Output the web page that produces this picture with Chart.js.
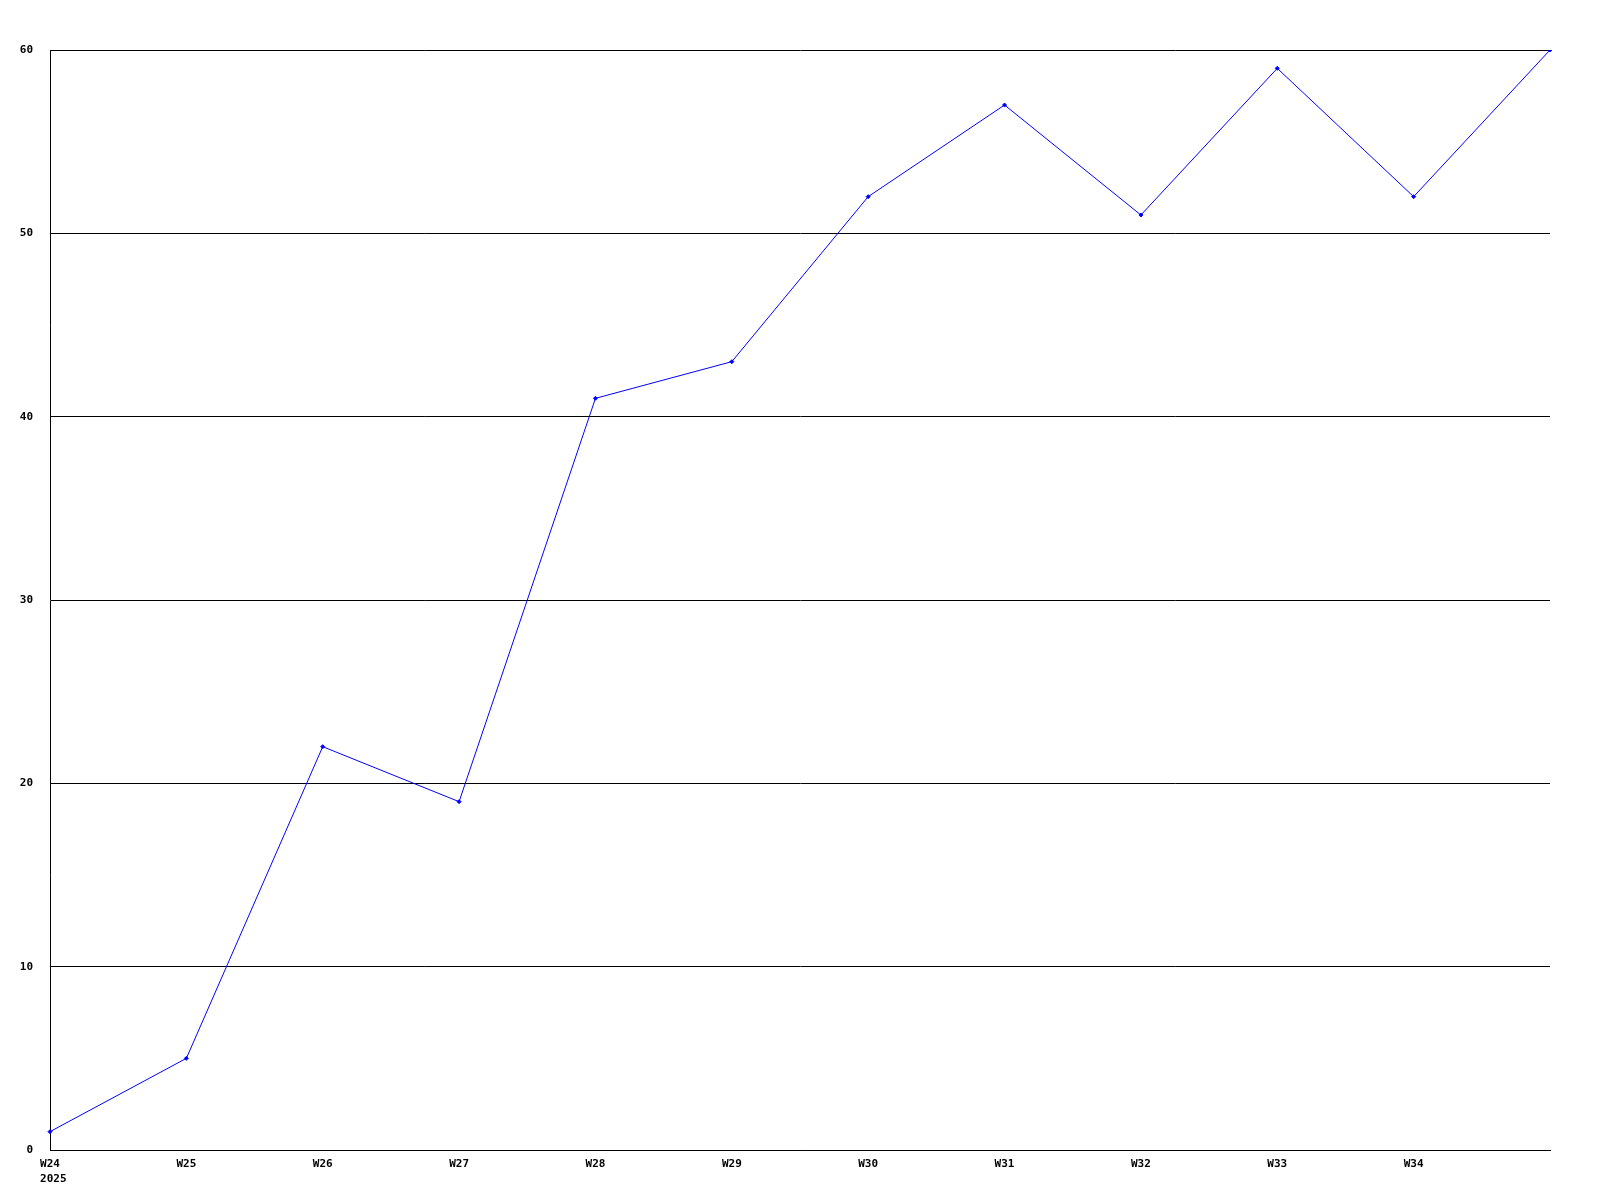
<!DOCTYPE html>
<html>
<head>
<meta charset="utf-8">
<script src="https://cdn.jsdelivr.net/npm/chart.js@4/dist/chart.umd.min.js"></script>
<style>
  html, body { margin: 0; padding: 0; background: #fff; }
  #wrap { width: 1600px; height: 1200px; position: relative; }
</style>
</head>
<body>
<div id="wrap"><canvas id="chart"></canvas></div>
<script>
// weekly values, W24 .. W35 (last label is not printed)
const weeks = ['W24', 'W25', 'W26', 'W27', 'W28', 'W29', 'W30', 'W31', 'W32', 'W33', 'W34', 'W35'];
const values = [1, 5, 22, 19, 41, 43, 52, 57, 51, 59, 52, 60];
const yearLabel = '2025';
const yTicks = [0, 10, 20, 30, 40, 50, 60];

const tickFont = { family: "'DejaVu Sans Mono', monospace", size: 11, weight: 'bold' };

const ctx = document.getElementById('chart');
new Chart(ctx, {
    type: 'line',
    data: {
        labels: weeks,
        datasets: [{
            data: values,
            borderColor: '#0000ff',
            backgroundColor: '#0000ff',
            borderWidth: 1,
            pointStyle: 'rectRot',
            pointRadius: 2,
            pointHoverRadius: 2,
            tension: 0,
            fill: false
        }]
    },
    options: {
        responsive: true,
        maintainAspectRatio: false,
        animation: false,
        layout: { padding: { left: 0, top: 50, right: 50, bottom: 0 } },
        plugins: { legend: { display: false }, tooltip: { enabled: false } },
        scales: {
            x: {
                offset: false,
                grid: { display: false, drawTicks: false },
                border: { color: '#000', width: 1 },
                ticks: {
                    color: '#000',
                    font: Object.assign({}, tickFont, { lineHeight: 1.4 }),
                    padding: 6,
                    maxRotation: 0,
                    autoSkip: false,
                    callback: function (val, i) {
                        if (i === weeks.length - 1) return '';
                        if (i === 0) return [weeks[i], ' ' + yearLabel];
                        return weeks[i];
                    }
                },
                afterFit: function (scale) { scale.height = 50; }
            },
            y: {
                min: yTicks[0],
                max: yTicks[yTicks.length - 1],
                afterBuildTicks: function (scale) {
                    scale.ticks = yTicks.map(v => ({ value: v }));
                },
                grid: { color: '#000', lineWidth: 1, drawTicks: false },
                border: { color: '#000', width: 1 },
                ticks: { color: '#000', font: tickFont, padding: 17 },
                afterFit: function (scale) { scale.width = 50; }
            }
        }
    }
});
</script>
</body>
</html>
